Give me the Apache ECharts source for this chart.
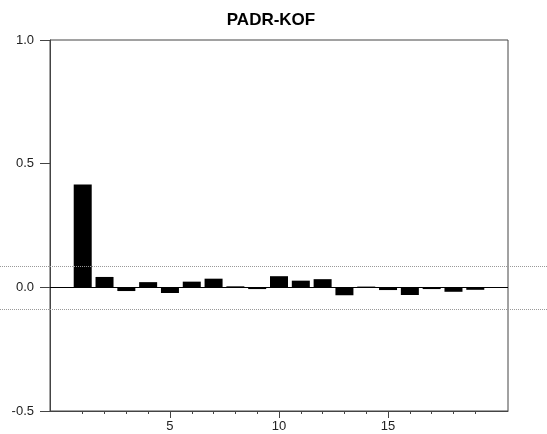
<!DOCTYPE html>
<html>
<head>
<meta charset="utf-8">
<script src="https://cdn.jsdelivr.net/npm/echarts@6/dist/echarts.min.js"></script>
<style>
  html, body { margin: 0; padding: 0; background: #fff; }
  #chart { width: 547px; height: 434px; }
</style>
</head>
<body>
<div id="chart"></div>
<script>
// Autocorrelations of PADR-KOF by lag
const lags = [1, 2, 3, 4, 5, 6, 7, 8, 9, 10, 11, 12, 13, 14, 15, 16, 17, 18, 19];
const acf = [0.416, 0.042, -0.015, 0.021, -0.023, 0.023, 0.035, 0.004, -0.007, 0.045,
             0.027, 0.033, -0.032, 0.003, -0.011, -0.031, -0.007, -0.018, -0.010];
const bandLimit = 0.088;           // approximate 95% band
const majorTicks = [5, 10, 15];
const titleText = 'PADR-KOF';

const FONT = "'Liberation Sans', Arial, sans-serif";
const frameColor = '#444';
const gridBox = { left: 50, right: 39, top: 40, bottom: 23 };

const chart = echarts.init(document.getElementById('chart'), null, { renderer: 'canvas' });

chart.setOption({
  animation: false,
  backgroundColor: '#fff',
  grid: [
    Object.assign({ show: true, borderColor: frameColor, borderWidth: 1, backgroundColor: 'transparent' }, gridBox),
    Object.assign({ show: false }, gridBox)
  ],
  xAxis: [
    {
      type: 'value', gridIndex: 0, min: -0.5, max: 20.5, position: 'bottom',
      axisLine: { show: true, onZero: false, lineStyle: { color: frameColor, width: 1 } },
      axisTick: { show: true, length: 3, customValues: lags, lineStyle: { color: frameColor } },
      axisLabel: { show: false },
      splitLine: { show: false }
    },
    {
      type: 'value', gridIndex: 1, min: -0.5, max: 20.5, position: 'bottom',
      axisLine: { show: false, onZero: false },
      axisTick: { show: true, length: 7, customValues: majorTicks, lineStyle: { color: frameColor } },
      axisLabel: {
        show: true, customValues: majorTicks, margin: 9,
        fontFamily: FONT, fontSize: 13, color: '#222'
      },
      splitLine: { show: false }
    }
  ],
  yAxis: [
    {
      type: 'value', gridIndex: 0, min: -0.5, max: 1.0, interval: 0.5, position: 'left',
      axisLine: { show: true, onZero: false, lineStyle: { color: frameColor, width: 1 } },
      axisTick: { show: true, length: 10, lineStyle: { color: frameColor } },
      axisLabel: {
        margin: 16, fontFamily: FONT, fontSize: 13, color: '#222',
        formatter: v => v.toFixed(1)
      },
      splitLine: { show: false }
    },
    {
      type: 'value', gridIndex: 1, min: -0.5, max: 1.0, interval: 0.5, show: false,
      axisLine: { onZero: false }
    }
  ],
  series: [
    {
      type: 'bar',
      xAxisIndex: 0, yAxisIndex: 0,
      data: lags.map((l, i) => [l, acf[i]]),
      barWidth: 18,
      itemStyle: { color: '#000' },
      markLine: {
        silent: true, symbol: 'none', label: { show: false },
        lineStyle: { color: '#000', type: 'solid', width: 1 },
        data: [{ yAxis: 0 }]
      }
    }
  ]
});

// Confidence band lines run across the whole canvas width; title sits above the frame
const bandLines = [bandLimit, -bandLimit].map(v => {
  const y = Math.round(chart.convertToPixel({ yAxisIndex: 0 }, v)) + 0.5;
  return {
    type: 'line',
    silent: true,
    shape: { x1: 0, y1: y, x2: 547, y2: y },
    style: { stroke: '#999', lineWidth: 1, lineDash: [1, 1] },
    z: 10
  };
});
bandLines.push({
  type: 'text',
  silent: true,
  x: 271,
  y: 20,
  style: {
    text: titleText,
    fontFamily: FONT, fontSize: 17, fontWeight: 'bold', fill: '#000',
    align: 'center', verticalAlign: 'middle'
  },
  z: 10
});
chart.setOption({ graphic: bandLines });
</script>
</body>
</html>
